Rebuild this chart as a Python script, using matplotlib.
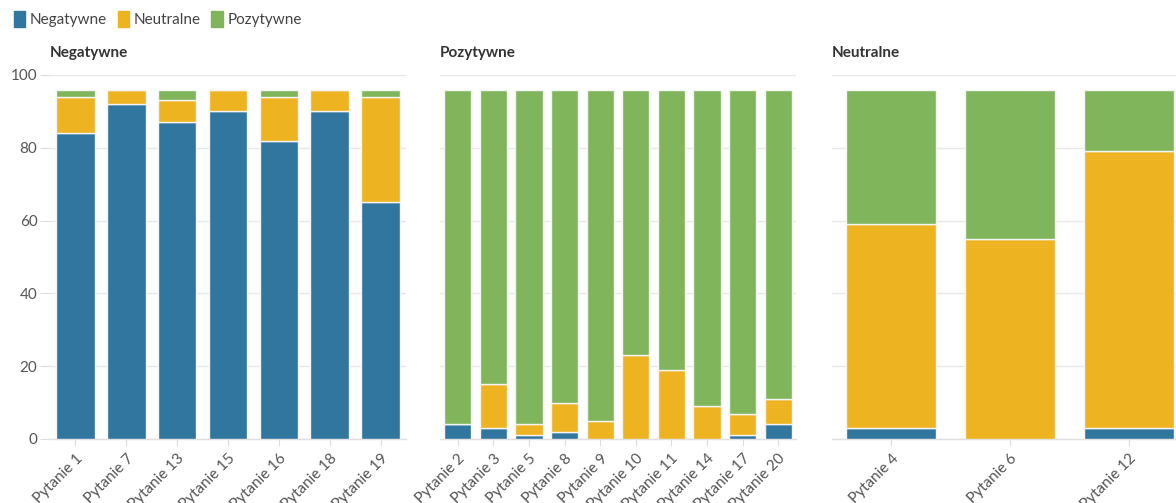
import matplotlib
matplotlib.use("Agg")
import matplotlib.pyplot as plt
from matplotlib.patches import Patch
import numpy as np

plt.rcParams['font.family'] = ['Lato', 'DejaVu Sans']

# Response shares per question, grouped by dominant sentiment
neg_questions = ["Pytanie 1", "Pytanie 7", "Pytanie 13", "Pytanie 15", "Pytanie 16", "Pytanie 18", "Pytanie 19"]
neg_negatywne = [84, 92, 87, 90, 82, 90, 65]
neg_neutralne = [10, 4, 6, 6, 12, 6, 29]
neg_pozytywne = [2, 0, 3, 0, 2, 0, 2]

poz_questions = ["Pytanie 2", "Pytanie 3", "Pytanie 5", "Pytanie 8", "Pytanie 9", "Pytanie 10",
                 "Pytanie 11", "Pytanie 14", "Pytanie 17", "Pytanie 20"]
poz_negatywne = [4, 3, 1, 2, 0, 0, 0, 0, 1, 4]
poz_neutralne = [0, 12, 3, 8, 5, 23, 19, 9, 6, 7]
poz_pozytywne = [92, 81, 92, 86, 91, 73, 77, 87, 89, 85]

neu_questions = ["Pytanie 4", "Pytanie 6", "Pytanie 12"]
neu_negatywne = [3, 0, 3]
neu_neutralne = [56, 55, 76]
neu_pozytywne = [37, 41, 17]

series_names = ["Negatywne", "Neutralne", "Pozytywne"]
colors = ["#31769f", "#edb320", "#80b55c"]

panels = [
    ("Negatywne", neg_questions, [neg_negatywne, neg_neutralne, neg_pozytywne]),
    ("Pozytywne", poz_questions, [poz_negatywne, poz_neutralne, poz_pozytywne]),
    ("Neutralne", neu_questions, [neu_negatywne, neu_neutralne, neu_pozytywne]),
]

W, H = 1176, 503
fig = plt.figure(figsize=(W / 100, H / 100), dpi=100)

lefts = [50, 440, 832]
width_px = 356
bottom_px, top_px = 439, 75
text_col = "#555555"
grid_col = "#e8e8e8"

for i, (title, cats, vals) in enumerate(panels):
    ax = fig.add_axes([lefts[i] / W, (H - bottom_px) / H, width_px / W, (bottom_px - top_px) / H])
    x = np.arange(len(cats))
    base = np.zeros(len(cats))
    for name, v, c in zip(series_names, vals, colors):
        v = np.array(v, dtype=float)
        ax.bar(x, v, bottom=base, width=0.76, color=c, edgecolor="#f4f4f4",
               linewidth=1.0, zorder=3)
        base += v
    ax.set_xlim(-0.5, len(cats) - 0.5)
    ax.set_ylim(0, 100)
    ax.set_yticks(np.arange(0, 101, 20))
    ax.grid(axis="y", color=grid_col, linewidth=1, zorder=0)
    for s in ["top", "right", "left"]:
        ax.spines[s].set_visible(False)
    ax.spines["bottom"].set_color("#e0e0e0")
    ax.spines["bottom"].set_linewidth(1)
    ax.set_xticks(x)
    ax.set_xticklabels(cats, rotation=45, ha="right", va="top", rotation_mode="anchor",
                       fontsize=11, color=text_col)
    ax.tick_params(axis="x", length=5, color="#dddddd", pad=4)
    if i == 0:
        ax.tick_params(axis="y", length=7, color="#dddddd", labelsize=11,
                       labelcolor=text_col, pad=2)
    else:
        ax.tick_params(axis="y", length=0, labelleft=False)
    ax.text(0, 1 + 22 / (bottom_px - top_px), title, transform=ax.transAxes,
            fontsize=11, fontweight="bold", color="#333333", ha="left", va="center")

handles = [Patch(facecolor=c, edgecolor=c, label=n) for n, c in zip(series_names, colors)]
fig.legend(handles=handles, loc="upper left", bbox_to_anchor=(0.0, 1.005), ncol=3,
           frameon=False, fontsize=11, handlelength=0.75, handleheight=1.2,
           handletextpad=0.3, columnspacing=0.7, labelcolor="#444444")

fig.savefig("out.png", dpi=100)
